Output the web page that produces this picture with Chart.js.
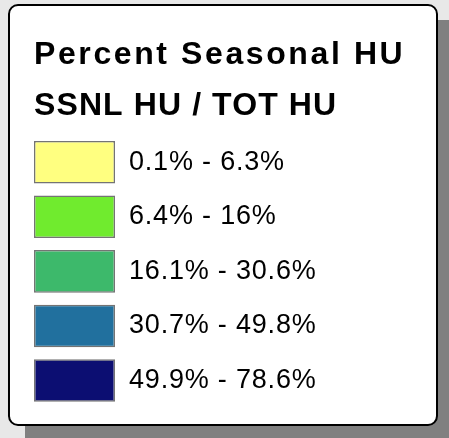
<!DOCTYPE html>
<html>
<head>
<meta charset="utf-8">
<script src="https://cdn.jsdelivr.net/npm/chart.js@4/dist/chart.umd.min.js"></script>
<style>
  html, body { margin: 0; padding: 0; background: #e8e8e8; }
  canvas { display: block; }
</style>
</head>
<body>
<canvas id="c" width="449" height="438"></canvas>
<script>
// ---- data ----
const titleLine1 = 'Percent Seasonal HU';
const titleLine2 = 'SSNL HU / TOT HU';
const categories = ['0.1% - 6.3%', '6.4% - 16%', '16.1% - 30.6%', '30.7% - 49.8%', '49.9% - 78.6%'];
const swatchValues = [1, 1, 1, 1, 1];
const swatchColors = ['#FFFF80', '#70EB2E', '#3DB96B', '#21709E', '#0C0E72'];

const FONT = '"Liberation Sans", Arial, sans-serif';

const framePlugin = {
  id: 'frame',
  afterLayout(chart) {
    chart.boxes.forEach(b => {
      if (!b.options || b._lsWrapped) return;
      let ls = null;
      if (b.options.text === titleLine1) ls = '2.6px';
      else if (b.options.text === titleLine2) ls = '1.1px';
      if (ls === null) return;
      const orig = b.draw;
      b.draw = function () {
        const ctx = this.ctx;
        const prev = ctx.letterSpacing;
        ctx.letterSpacing = ls;
        orig.apply(this, arguments);
        ctx.letterSpacing = prev;
      };
      b._lsWrapped = true;
    });
  },
  beforeDraw(chart) {
    const ctx = chart.ctx;
    const W = chart.width, H = chart.height;
    ctx.save();
    ctx.letterSpacing = '0px';
    ctx.fillStyle = '#e8e8e8';
    ctx.fillRect(0, 0, W, H);
    // shadow
    ctx.fillStyle = '#808080';
    ctx.fillRect(25, 20, W - 25, H - 20);
    // white panel
    ctx.beginPath();
    ctx.roundRect(9, 5, 428, 420, 9);
    ctx.fillStyle = '#ffffff';
    ctx.fill();
    ctx.lineWidth = 2;
    ctx.strokeStyle = '#000000';
    ctx.stroke();
    ctx.restore();
    ctx.letterSpacing = '0.8px';
  }
};

new Chart(document.getElementById('c'), {
  type: 'bar',
  data: {
    labels: categories,
    datasets: [{
      data: swatchValues,
      backgroundColor: swatchColors,
      borderColor: '#747474',
      borderWidth: 1.5,
      borderSkipped: false,
      categoryPercentage: 1,
      barPercentage: 0.78
    }]
  },
  options: {
    indexAxis: 'y',
    responsive: false,
    animation: false,
    events: [],
    layout: { padding: { top: 36, left: 34, right: 0, bottom: 0 } },
    plugins: {
      legend: { display: false },
      tooltip: { enabled: false },
      title: {
        display: true,
        text: titleLine1,
        align: 'start',
        color: '#000',
        font: { family: FONT, size: 32, weight: 'bold', lineHeight: 1.2 },
        padding: { top: 0, bottom: 0 }
      },
      subtitle: {
        display: true,
        text: titleLine2,
        align: 'start',
        color: '#000',
        font: { family: FONT, size: 32, weight: 'bold', lineHeight: 1.2 },
        padding: { top: 12.3, bottom: 9.9 }
      }
    },
    scales: {
      x: { display: false, min: 0, max: 1 },
      y: {
        position: 'right',
        grid: { display: false, drawTicks: false },
        border: { display: false },
        ticks: {
          color: '#000',
          padding: 14,
          font: { family: FONT, size: 27 }
        },
        afterFit(axis) { axis.width = 449 - 115; }
      }
    }
  },
  plugins: [framePlugin]
});
</script>
</body>
</html>
